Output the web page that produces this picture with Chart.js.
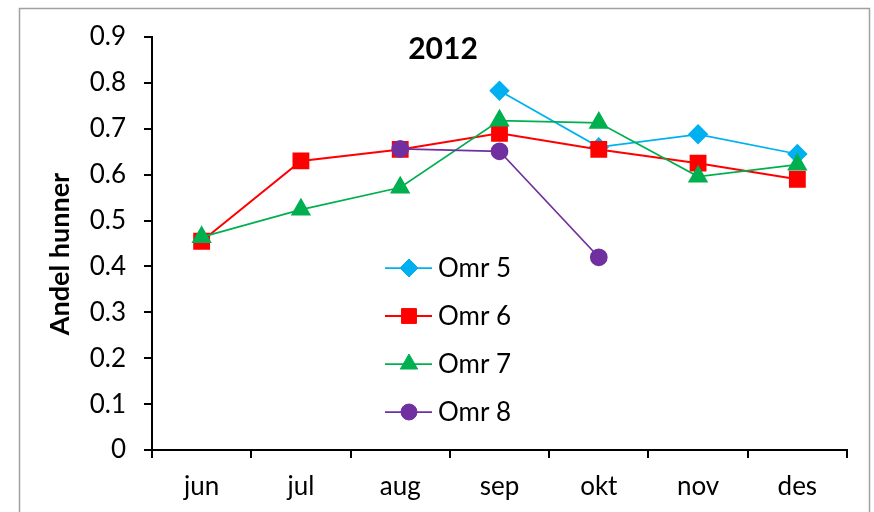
<!DOCTYPE html>
<html>
<head>
<meta charset="utf-8">
<script src="https://cdn.jsdelivr.net/npm/chart.js@4"></script>
<style>
  html, body { margin: 0; padding: 0; background: #fff; }
  #wrap { width: 874px; height: 512px; }
</style>
</head>
<body>
<div id="wrap"><canvas id="chart" width="874" height="512"></canvas></div>
<script>
const months = ['jun', 'jul', 'aug', 'sep', 'okt', 'nov', 'des'];
const omr5 = [null, null, null, 0.783, 0.66, 0.688, 0.645];
const omr6 = [0.455, 0.63, 0.655, 0.69, 0.655, 0.625, 0.59];
const omr7 = [0.464, 0.524, 0.572, 0.718, 0.713, 0.596, 0.622];
const omr8 = [null, null, 0.656, 0.651, 0.42, null, null];
const yTicks = [0, 0.1, 0.2, 0.3, 0.4, 0.5, 0.6, 0.7, 0.8, 0.9];

const FONT = 'Lato, "Open Sans", sans-serif';

// frame, title, y-axis label and the legend box inside the plot
const decor = {
  id: 'decor',
  beforeDraw(chart) {
    const ctx = chart.ctx;
    ctx.save();
    ctx.strokeStyle = '#a0a0a0';
    ctx.lineWidth = 1.5;
    ctx.strokeRect(19.5, 8.5, 850, 520);
    ctx.restore();
  },
  afterDraw(chart) {
    const ctx = chart.ctx;
    ctx.save();
    ctx.fillStyle = '#000';
    ctx.font = 'bold 30px ' + FONT;
    ctx.textAlign = 'center';
    ctx.textBaseline = 'middle';
    ctx.fillText('2012', 443, 49);

    ctx.translate(60, 254);
    ctx.rotate(-Math.PI / 2);
    ctx.font = 'bold 27px ' + FONT;
    ctx.fillText('Andel hunner', 0, 0);
    ctx.restore();

    const rows = [268, 316, 364, 412];
    chart.data.datasets.forEach((ds, i) => {
      const y = rows[i];
      ctx.save();
      ctx.strokeStyle = ds.borderColor;
      ctx.lineWidth = ds.borderWidth;
      ctx.beginPath();
      ctx.moveTo(385, y);
      ctx.lineTo(432, y);
      ctx.stroke();
      ctx.fillStyle = ds.pointBackgroundColor;
      ctx.strokeStyle = ds.pointBorderColor;
      ctx.lineWidth = 1;
      Chart.helpers.drawPoint(ctx, {pointStyle: ds.pointStyle, radius: ds.pointRadius, rotation: 0, borderWidth: 1}, 409, y);
      ctx.fillStyle = '#000';
      ctx.font = '26px ' + FONT;
      ctx.textAlign = 'left';
      ctx.textBaseline = 'middle';
      ctx.fillText(ds.label, 438, y + 1);
      ctx.restore();
    });
  }
};

function series(label, data, color, style, radius, width, order) {
  return {
    label, data,
    borderColor: color,
    backgroundColor: color,
    pointBackgroundColor: color,
    pointBorderColor: color,
    pointStyle: style,
    pointRadius: radius,
    pointHoverRadius: radius,
    borderWidth: width,
    order,
    tension: 0
  };
}

new Chart(document.getElementById('chart'), {
  type: 'line',
  data: {
    labels: months,
    datasets: [
      series('Omr 5', omr5, '#00B0F0', 'rectRot', 9, 1.75, 3),
      series('Omr 6', omr6, '#FF0000', 'rect', 10.5, 2, 2),
      series('Omr 7', omr7, '#00B050', 'triangle', 10, 1.75, 1),
      series('Omr 8', omr8, '#7030A0', 'circle', 8, 1.75, 0)
    ]
  },
  options: {
    responsive: false,
    animation: false,
    layout: { padding: { left: 20, right: 27, top: 37, bottom: 12 } },
    plugins: {
      legend: { display: false },
      title: { display: false },
      tooltip: { enabled: false }
    },
    scales: {
      x: {
        offset: true,
        grid: { offset: true, drawOnChartArea: false, drawTicks: true, tickLength: 8, color: '#000', lineWidth: 2 },
        border: { color: '#000', width: 2 },
        ticks: { color: '#000', font: { family: FONT, size: 26 }, padding: 13, maxRotation: 0 },
        afterFit(scale) { scale.height = 50; }
      },
      y: {
        min: 0,
        max: 0.9,
        afterBuildTicks(scale) { scale.ticks = yTicks.map(v => ({ value: v })); },
        grid: { drawOnChartArea: false, drawTicks: true, tickLength: 8, color: '#000', lineWidth: 2 },
        border: { color: '#000', width: 2 },
        ticks: {
          color: '#000',
          font: { family: FONT, size: 26 },
          padding: 18,
          callback: v => String(+v.toFixed(1))
        },
        afterFit(scale) { scale.width = 132; }
      }
    }
  },
  plugins: [decor]
});
</script>
</body>
</html>
